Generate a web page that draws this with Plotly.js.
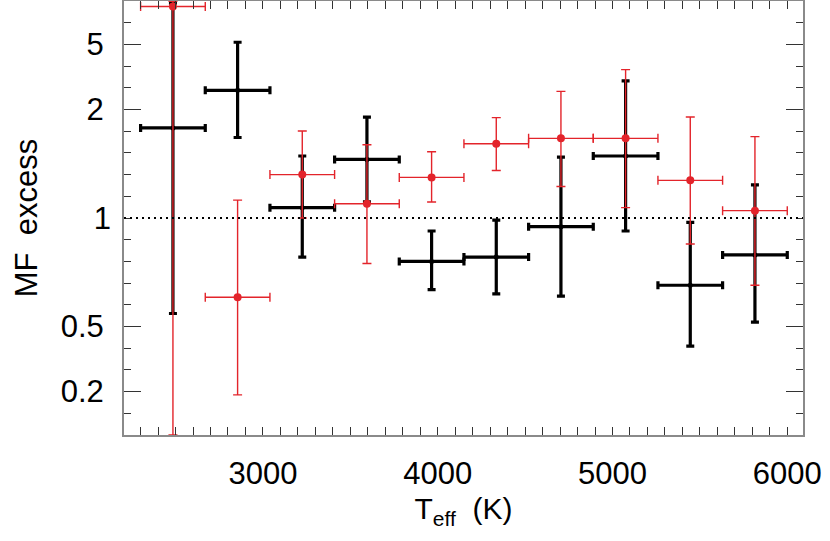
<!DOCTYPE html>
<html>
<head>
<meta charset="utf-8">
<script src="https://cdn.plot.ly/plotly-3.0.1.min.js"></script>
<style>html,body{margin:0;padding:0;background:#fff;}#chart{width:830px;height:541px;}</style>
</head>
<body>
<div id="chart"></div>
<script>
// Bin centres (Teff, K) and half bin width
const teff = [2485, 2855, 3225, 3595, 3965, 4335, 4705, 5075, 5445, 5815];
const binHalf = [185, 185, 185, 185, 185, 185, 185, 185, 185, 185];

// Black series: MF excess value, upper bound, lower bound
const blackVal = [1.71, 2.43, 1.05, 1.37, 0.80, 0.82, 0.96, 1.40, 0.69, 0.83];
const blackHi  = [100, 5.26, 1.40, 1.87, 0.94, 0.99, 1.39, 2.72, 0.98, 1.18];
const blackLo  = [0.56, 1.59, 0.82, 1.08, 0.67, 0.65, 0.64, 0.94, 0.41, 0.52];

// Red series: MF excess value, upper bound, lower bound
const redVal = [40, 0.635, 1.25, 1.07, 1.23, 1.52, 1.58, 1.58, 1.21, 1.035];
const redHi  = [1000, 1.09, 1.67, 1.51, 1.44, 1.86, 2.40, 3.16, 1.87, 1.60];
const redLo  = [0.0, 0.185, 1.0, 0.79, 1.08, 1.28, 1.17, 1.05, 0.88, 0.69];

// Y axis tick labels (MF excess values)
const yTickVals = [0.2, 0.5, 2, 5];
const yTickText = ['0.2', '0.5', '2', '5'];
const refLevel = 1;

// Axis scale used by the figure: x>=1 -> 1-1/x ; x<1 -> x-1
function tf(v) { return v >= 1 ? 1 - 1 / v : v - 1; }

function makeTrace(val, hi, lo, color, thick, capw, msize) {
  const y = val.map(tf);
  return {
    type: 'scatter', mode: 'markers',
    x: teff, y: y,
    marker: {color: color, size: msize},
    error_y: {type: 'data', symmetric: false,
      array: hi.map((h, i) => tf(h) - y[i]),
      arrayminus: lo.map((l, i) => y[i] - tf(l)),
      color: color, thickness: thick, width: capw},
    error_x: {type: 'data', array: binHalf, color: color, thickness: thick, width: capw},
    hoverinfo: 'skip', showlegend: false
  };
}

const red = '#e3242b';
const traces = [
  makeTrace(blackVal, blackHi, blackLo, '#000000', 3.2, 4, 5),
  makeTrace(redVal, redHi, redLo, red, 1.4, 4.5, 8)
];

const font = {family: '"Liberation Sans", Arial, sans-serif', size: 31, color: '#000'};

const layout = {
  width: 830, height: 541,
  margin: {l: 124, r: 27, t: 1, b: 106},
  paper_bgcolor: '#fff', plot_bgcolor: '#fff',
  showlegend: false,
  xaxis: {
    range: [2205, 6090],
    tickmode: 'linear', tick0: 0, dtick: 1000,
    ticks: 'inside', ticklen: 8, tickwidth: 1, tickcolor: '#333',
    minor: {dtick: 100, tick0: 0, ticks: 'inside', ticklen: 4, tickwidth: 1, tickcolor: '#333'},
    showline: true, linecolor: '#8a8a8a', linewidth: 2, mirror: 'allticks',
    showgrid: false, zeroline: false,
    tickfont: font, ticklabelstandoff: 10,
    title: {text: 'T<sub>eff</sub>  (K)', font: {family: font.family, size: 30, color: '#000'}, standoff: 8}
  },
  yaxis: {
    range: [-1, 1],
    tickmode: 'array', tickvals: yTickVals.map(tf), ticktext: yTickText,
    ticks: 'inside', ticklen: 17, tickwidth: 1, tickcolor: '#333',
    minor: {dtick: 0.1, tick0: 0, ticks: 'inside', ticklen: 7, tickwidth: 1, tickcolor: '#333'},
    showline: true, linecolor: '#8a8a8a', linewidth: 2, mirror: 'allticks',
    showgrid: false, zeroline: false,
    tickfont: font, ticklabelstandoff: 12,
    title: {text: 'MF  excess', font: {family: font.family, size: 31, color: '#000'}, standoff: 14}
  },
  yaxis2: {
    overlaying: 'y', side: 'left', range: [-1, 1],
    tickmode: 'array', tickvals: [tf(refLevel)], ticktext: ['1'],
    ticks: '', showline: false, showgrid: false, zeroline: false,
    tickfont: font, ticklabelstandoff: 12
  },
  shapes: [{
    type: 'line', xref: 'paper', x0: 0, x1: 1, yref: 'y', y0: tf(refLevel), y1: tf(refLevel),
    line: {color: '#000', width: 2.2, dash: '2px,4px'}
  }]
};

// invisible anchor trace so that yaxis2 is drawn
traces.unshift({type: 'scatter', x: [teff[0]], y: [tf(refLevel)], yaxis: 'y2', mode: 'markers',
  marker: {opacity: 0}, hoverinfo: 'skip', showlegend: false});

Plotly.newPlot('chart', traces, layout, {staticPlot: true, displayModeBar: false});
</script>
</body>
</html>
